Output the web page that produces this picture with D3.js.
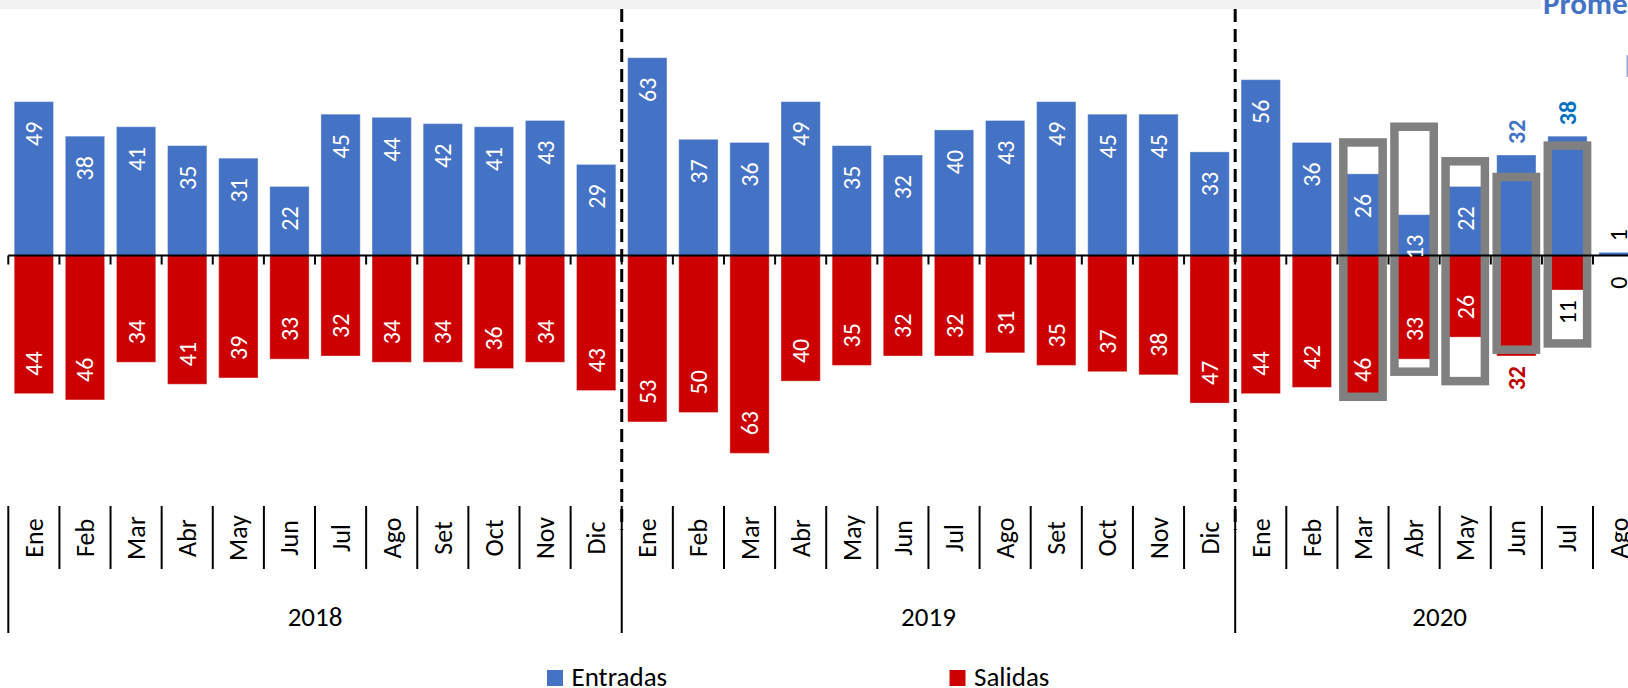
<!DOCTYPE html>
<html>
<head>
<meta charset="utf-8">
<script src="https://cdn.jsdelivr.net/npm/d3@7"></script>
<style>
  body { margin: 0; background: #fff; }
  svg { display: block; font-family: Carlito, Calibri, Lato, sans-serif; }
</style>
</head>
<body>
<script>
// data
const years = ["2018", "2019", "2020"];
const monthsPerYear = [12, 12, 8];
const monthNames = ["Ene", "Feb", "Mar", "Abr", "May", "Jun", "Jul", "Ago", "Set", "Oct", "Nov", "Dic"];

const entradas = [
    49, 38, 41, 35, 31, 22, 45, 44, 42, 41, 43, 29,
    63, 37, 36, 49, 35, 32, 40, 43, 49, 45, 45, 33,
    56, 36, 26, 13, 22, 32, 38, 1
];
const salidas = [
    44, 46, 34, 41, 39, 33, 32, 34, 34, 36, 34, 43,
    53, 50, 63, 40, 35, 32, 32, 31, 35, 37, 38, 47,
    44, 42, 46, 33, 26, 32, 11, 0
];

// grey frames drawn over 2020 Mar-Jul
const boxMonths = ["2020-Mar", "2020-Abr", "2020-May", "2020-Jun", "2020-Jul"];
const boxUp = [36, 41, 30, 25, 35];
const boxDown = [45, 37, 40, 30, 28];

// labels that sit outside the bar end
const outsideEntradas = ["2020-Jun", "2020-Jul", "2020-Ago"];
const outsideSalidas = ["2020-Jun", "2020-Jul", "2020-Ago"];
const boldLabels = { "e:2020-Jun": "#4472c4", "e:2020-Jul": "#0070c0", "s:2020-Jun": "#c00000" };

const width = 1628, height = 688;
const blue = "#4472c4", red = "#cc0000";

// build category keys
const cats = [];
years.forEach((y, yi) => {
    for (let m = 0; m < monthsPerYear[yi]; m++) {
        cats.push({ key: y + "-" + monthNames[m], year: y, month: monthNames[m], i: cats.length });
    }
});
cats.forEach((c, i) => { c.ent = entradas[i]; c.sal = salidas[i]; });

const x = d3.scaleBand()
    .domain(cats.map(d => d.key))
    .range([8.3, 8.3 + cats.length * 51.12])
    .paddingInner(0.231)
    .paddingOuter(0.1155);

const y = d3.scaleLinear().domain([-70, 70]).range([475.3, 35.7]);
const y0 = y(0);
const step = x.step();
const left = x.range()[0];
const boundary = k => left + k * step;

const svg = d3.select("body").append("svg")
    .attr("width", width)
    .attr("height", height)
    .attr("viewBox", [0, 0, width, height]);

// top grey strip and cut-off neighbour chart title
svg.append("rect").attr("x", 0).attr("y", 0).attr("width", 1541).attr("height", 9).attr("fill", "#f2f2f2");
svg.append("text")
    .attr("x", 1543).attr("y", 13.5)
    .attr("fill", blue)
    .attr("font-weight", "bold")
    .attr("font-size", 31)
    .text("Promedio");
svg.append("rect").attr("x", 1626.5).attr("y", 55).attr("width", 4).attr("height", 22).attr("fill", "#8faadc");

// bars
const bars = svg.append("g");
bars.selectAll(".ent")
    .data(cats)
    .join("rect")
    .attr("x", d => x(d.key))
    .attr("width", x.bandwidth())
    .attr("y", d => y(d.ent))
    .attr("height", d => y0 - y(d.ent))
    .attr("fill", blue)
    .attr("stroke", "#fff").attr("stroke-opacity", 0.35).attr("stroke-width", 1);

bars.selectAll(".sal")
    .data(cats)
    .join("rect")
    .attr("x", d => x(d.key))
    .attr("width", x.bandwidth())
    .attr("y", y0)
    .attr("height", d => y(-d.sal) - y0)
    .attr("fill", red)
    .attr("stroke", "#fff").attr("stroke-opacity", 0.35).attr("stroke-width", 1);

// grey frames
const boxes = boxMonths.map((k, i) => ({ key: k, up: boxUp[i], down: boxDown[i] }));
svg.append("g")
    .selectAll("rect")
    .data(boxes)
    .join("rect")
    .attr("x", d => x(d.key))
    .attr("width", x.bandwidth())
    .attr("y", d => y(d.up))
    .attr("height", d => y(-d.down) - y(d.up))
    .attr("fill", "none")
    .attr("stroke", "#808080")
    .attr("stroke-width", 8.5);

// zero axis with ticks at category boundaries
const axis = svg.append("g").attr("stroke", "#000");
axis.append("line")
    .attr("x1", left).attr("x2", boundary(cats.length))
    .attr("y1", y0).attr("y2", y0)
    .attr("stroke-width", 2);
axis.selectAll(".tick")
    .data(d3.range(cats.length + 1))
    .join("line")
    .attr("x1", k => boundary(k)).attr("x2", k => boundary(k))
    .attr("y1", y0).attr("y2", y0 + 9)
    .attr("stroke-width", 2);

// data labels
const lab = svg.append("g").attr("font-size", 24);
lab.selectAll(".le")
    .data(cats)
    .join("text")
    .attr("transform", d => {
        const cx = x(d.key) + x.bandwidth() / 2;
        const out = outsideEntradas.includes(d.key);
        const ty = out ? y(d.ent) - 11 : y(d.ent) + 20;
        return `translate(${cx},${ty}) rotate(-90)`;
    })
    .attr("text-anchor", d => outsideEntradas.includes(d.key) ? "start" : "end")
    .attr("dominant-baseline", "central")
    .attr("fill", d => boldLabels["e:" + d.key] || (outsideEntradas.includes(d.key) ? "#000" : "#fff"))
    .attr("font-weight", d => boldLabels["e:" + d.key] ? "bold" : null)
    .text(d => d.ent);

lab.selectAll(".ls")
    .data(cats)
    .join("text")
    .attr("transform", d => {
        const cx = x(d.key) + x.bandwidth() / 2;
        const out = outsideSalidas.includes(d.key);
        const ty = out ? y(-d.sal) + (d.sal === 0 ? 21 : 10) : y(-d.sal) - 18;
        return `translate(${cx},${ty}) rotate(-90)`;
    })
    .attr("text-anchor", d => outsideSalidas.includes(d.key) ? "end" : "start")
    .attr("dominant-baseline", "central")
    .attr("fill", d => boldLabels["s:" + d.key] || (outsideSalidas.includes(d.key) ? "#000" : "#fff"))
    .attr("font-weight", d => boldLabels["s:" + d.key] ? "bold" : null)
    .text(d => d.sal);

// year separators (dashed)
let acc = 0;
const yearStarts = monthsPerYear.map(n => { const s = acc; acc += n; return s; });
svg.append("g")
    .selectAll("line")
    .data(yearStarts.slice(1))
    .join("line")
    .attr("x1", k => boundary(k)).attr("x2", k => boundary(k))
    .attr("y1", 9).attr("y2", 530)
    .attr("stroke", "#000")
    .attr("stroke-width", 3)
    .attr("stroke-dasharray", "13,7");

// category axis: months and years
const cat = svg.append("g");
cat.selectAll(".md")
    .data(d3.range(cats.length + 1))
    .join("line")
    .attr("x1", k => boundary(k)).attr("x2", k => boundary(k))
    .attr("y1", 506)
    .attr("y2", k => yearStarts.includes(k) ? 633 : 569)
    .attr("stroke", "#000")
    .attr("stroke-width", 2);

cat.selectAll(".ml")
    .data(cats)
    .join("text")
    .attr("transform", d => `translate(${x(d.key) + x.bandwidth() / 2},538) rotate(-90)`)
    .attr("text-anchor", "middle")
    .attr("dominant-baseline", "central")
    .attr("font-size", 26)
    .attr("fill", "#000")
    .text(d => d.month);

cat.selectAll(".yl")
    .data(years)
    .join("text")
    .attr("x", (d, i) => boundary(yearStarts[i] + monthsPerYear[i] / 2))
    .attr("y", 616)
    .attr("text-anchor", "middle")
    .attr("dominant-baseline", "central")
    .attr("font-size", 27)
    .attr("fill", "#000")
    .text(d => d);

// legend
const legend = svg.append("g").attr("font-size", 27);
const legendItems = [
    { name: "Entradas", color: blue, x: 547 },
    { name: "Salidas", color: red, x: 949.5 }
];
legend.selectAll("rect")
    .data(legendItems)
    .join("rect")
    .attr("x", d => d.x).attr("y", 670)
    .attr("width", 16).attr("height", 16)
    .attr("fill", d => d.color);
legend.selectAll("text")
    .data(legendItems)
    .join("text")
    .attr("x", d => d.x + 24.5).attr("y", 686)
    .attr("fill", "#000")
    .text(d => d.name);
</script>
</body>
</html>
